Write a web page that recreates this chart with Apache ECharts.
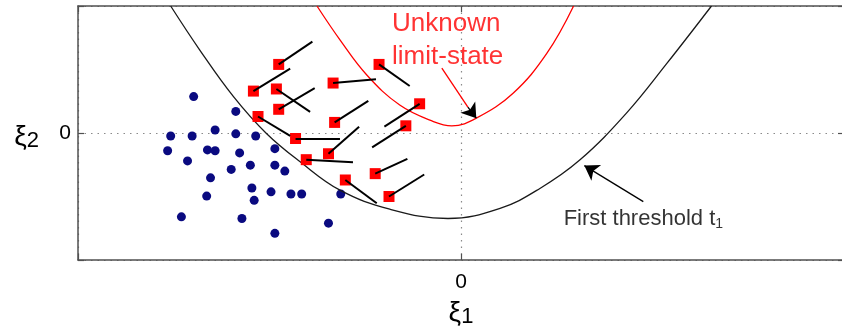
<!DOCTYPE html>
<html>
<head>
<meta charset="utf-8">
<script src="https://cdn.jsdelivr.net/npm/echarts@6/dist/echarts.min.js"></script>
<style>
  html, body { margin: 0; padding: 0; background: #fff; }
  #chart { width: 842px; height: 328px; }
</style>
</head>
<body>
<div id="chart"></div>
<script>
// safe samples (blue dots)
const dotX = [-3.49, -2.94, -3.21, -3.79, -3.51, -2.94, -2.68, -3.83, -3.31, -3.21, -2.89, -2.43, -3.57, -3.00, -2.75,
  -2.43, -2.30, -3.27, -2.73, -2.48, -2.22, -2.08, -1.57, -3.32, -2.70, -3.65, -2.86, -1.73, -2.43];
const dotY = [0.86, 0.51, 0.07, -0.07, -0.07, -0.02, -0.07, -0.42, -0.40, -0.42, -0.47, -0.37, -0.66, -0.86, -0.76,
  -0.76, -0.90, -1.06, -1.30, -1.39, -1.44, -1.44, -1.44, -1.49, -1.59, -1.98, -2.02, -2.13, -2.37];

// failed samples (red squares) and the end of their segments
const sqX = [-2.38, -2.71, -2.41, -2.38, -2.65, -2.16, -2.02, -1.67, -1.07, -1.65, -1.73, -0.54, -0.72, -1.12, -1.51, -0.94];
const sqY = [1.62, 0.99, 1.04, 0.56, 0.39, -0.13, -0.63, 1.18, 1.62, 0.25, -0.49, 0.69, 0.17, -0.96, -1.11, -1.50];
const tipX = [-1.94, -2.23, -1.97, -1.91, -2.23, -1.58, -1.41, -1.11, -0.67, -1.21, -1.33, -1.00, -1.16, -0.70, -1.10, -0.48];
const tipY = [2.16, 1.52, 0.50, 1.06, -0.07, -0.13, -0.69, 1.27, 1.11, 0.76, 0.15, 0.15, -0.34, -0.61, -1.66, -0.98];

// first threshold t1 (black curve)
const thrX = [-3.79, -3.41, -2.97, -2.54, -2.10, -1.58, -0.93, -0.17, 0.51, 1.03, 1.55, 2.16, 2.69, 3.27];
const thrY = [3.00, 1.96, 0.86, -0.01, -0.68, -1.35, -1.80, -2.02, -1.78, -1.31, -0.64, 0.47, 1.65, 3.00];

// unknown limit-state (red curve)
const limX = [-1.88, -1.58, -1.23, -0.80, -0.36, -0.12, 0.20, 0.68, 1.12, 1.47];
const limY = [3.00, 2.20, 1.37, 0.66, 0.27, 0.17, 0.35, 0.94, 1.88, 3.00];

// annotation arrows: [tail, head base, tip]
const redArrow = [[-0.25, 1.53], [0.09, 0.61], [0.20, 0.35]];
const blackArrow = [[2.38, -1.62], [1.61, -0.77]];

// annotation texts
const noteX = [-0.90, -0.90, 1.34];
const noteY = [2.27, 1.49, -2.31];
const noteText = ['Unknown', 'limit-state', 'First threshold t{sub|1}'];
const noteColor = ['#ff0000', '#ff0000', '#000000'];
const noteSize = [26, 26, 22];

const xTicks = [-5, 0, 5];
const yTicks = [-3, 0, 3];

const font = 'Liberation Sans, Arial, sans-serif';

const chart = echarts.init(document.getElementById('chart'));

const dots = dotX.map((x, i) => [x, dotY[i]]);
const squares = sqX.map((x, i) => [x, sqY[i]]);
const segments = sqX.map((x, i) => ({ coords: [[x, sqY[i]], [tipX[i], tipY[i]]] }));
const thrLine = thrX.map((x, i) => [x, thrY[i]]);
const limLine = limX.map((x, i) => [x, limY[i]]);

const notes = noteX.map((x, i) => ({
  value: [x, noteY[i]],
  label: {
    show: true,
    formatter: noteText[i],
    color: noteColor[i],
    fontSize: noteSize[i],
    fontFamily: font,
    position: [0, 0],
    align: 'left',
    verticalAlign: 'bottom',
    rich: { sub: { fontSize: 14, fontFamily: font, color: noteColor[i], padding: [10, 0, 0, 0] } }
  }
}));

const boxLine = { show: true, onZero: false, lineStyle: { color: '#505050', width: 1.5 } };
const inTick = { show: true, inside: true, length: 6, lineStyle: { color: '#505050', width: 1.2 } };
const greekRich = {
  x: { fontSize: 28, fontFamily: font, color: '#000' },
  n: { fontSize: 22, fontFamily: font, color: '#000', padding: [8, 0, 0, 0] }
};

const option = {
  backgroundColor: '#fff',
  animation: false,
  grid: { left: 78, right: -2, top: 6, bottom: 68, containLabel: false, outerBoundsMode: 'none' },
  xAxis: [
    {
      type: 'value', min: xTicks[0], max: xTicks[2], interval: 5,
      axisLine: boxLine, axisTick: inTick,
      axisLabel: {
        formatter: v => (v === 0 ? '0' : ''), color: '#000', fontSize: 21, fontFamily: font, margin: 12
      },
      splitLine: { show: true, lineStyle: { color: '#8a8a8a', type: [1.5, 5], width: 1.2 } },
      name: '{x|ξ}{n|1}', nameLocation: 'middle', nameGap: 38,
      nameTextStyle: { rich: greekRich }
    },
    {
      type: 'value', position: 'top', min: xTicks[0], max: xTicks[2], interval: 5,
      axisLine: boxLine, axisTick: inTick, axisLabel: { show: false }, splitLine: { show: false }
    }
  ],
  yAxis: [
    {
      type: 'value', min: yTicks[0], max: yTicks[2], interval: 3,
      axisLine: boxLine, axisTick: inTick,
      axisLabel: {
        formatter: v => (v === 0 ? '0' : ''), color: '#000', fontSize: 21, fontFamily: font, margin: 7,
        padding: [4, 0, 0, 0]
      },
      splitLine: { show: true, lineStyle: { color: '#8a8a8a', type: [1.5, 5], width: 1.2 } },
      name: '{x|ξ}{n|2}', nameLocation: 'middle', nameGap: 39, nameRotate: 0,
      nameTextStyle: { align: 'right', padding: [8, 0, 0, 0], rich: greekRich }
    },
    {
      type: 'value', position: 'right', min: yTicks[0], max: yTicks[2], interval: 3,
      axisLine: boxLine, axisTick: inTick, axisLabel: { show: false }, splitLine: { show: false }
    }
  ],
  series: [
    {
      name: 'safe', type: 'scatter', data: dots, symbol: 'circle', symbolSize: 9,
      itemStyle: { color: '#0a0a80', opacity: 1 }, z: 3
    },
    {
      name: 'threshold', type: 'line', data: thrLine, smooth: 0.4, symbol: 'none',
      lineStyle: { color: '#1a1a1a', width: 1.3 }, z: 4
    },
    {
      name: 'limit-state', type: 'line', data: limLine, smooth: 0.4, symbol: 'none',
      lineStyle: { color: '#ff0000', width: 1.3 }, z: 4
    },
    {
      name: 'failed', type: 'scatter', data: squares, symbol: 'rect', symbolSize: 11,
      itemStyle: { color: '#ff0000', opacity: 1 }, z: 5
    },
    {
      name: 'moves', type: 'lines', coordinateSystem: 'cartesian2d', data: segments,
      lineStyle: { color: '#000', width: 2, opacity: 1 }, z: 6
    },
    {
      name: 'redArrowLine', type: 'lines', coordinateSystem: 'cartesian2d',
      data: [{ coords: [redArrow[0], redArrow[1]] }],
      lineStyle: { color: '#ff0000', width: 1.3, opacity: 1 }, z: 7
    },
    {
      name: 'redArrowHead', type: 'lines', coordinateSystem: 'cartesian2d',
      data: [{ coords: [redArrow[1], redArrow[2]] }],
      symbol: ['none', 'arrow'], symbolSize: [10, 14],
      lineStyle: { color: '#000', width: 1.3, opacity: 1 }, z: 7
    },
    {
      name: 'blackArrow', type: 'lines', coordinateSystem: 'cartesian2d',
      data: [{ coords: blackArrow }],
      symbol: ['none', 'arrow'], symbolSize: [10, 14],
      lineStyle: { color: '#000', width: 1.3, opacity: 1 }, z: 7
    },
    {
      name: 'notes', type: 'scatter', data: notes, symbolSize: 0, z: 8, silent: true
    }
  ]
};

chart.setOption(option);
</script>
</body>
</html>
